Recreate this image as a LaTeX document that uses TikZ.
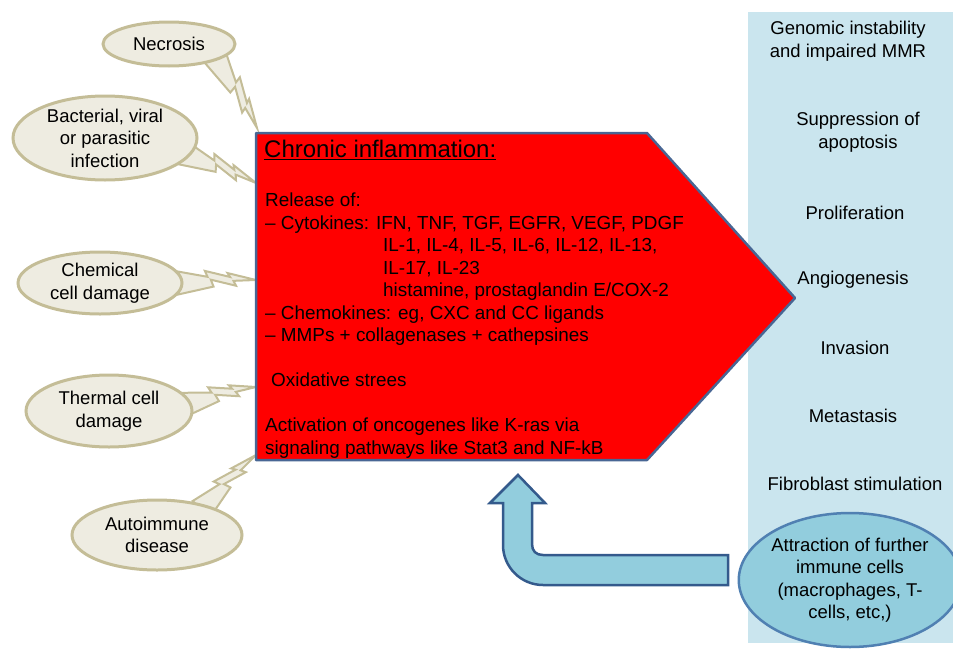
\documentclass[tikz,border=0pt]{standalone}
\usepackage{fontspec}
\setmainfont{Liberation Sans}
\usetikzlibrary{shapes,calc,backgrounds}

\definecolor{tanfill}{RGB}{238,236,225}
\definecolor{tanline}{RGB}{196,189,151}
\definecolor{panelblue}{RGB}{202,229,238}
\definecolor{boxline}{RGB}{72,102,148}
\definecolor{arrowfill}{RGB}{146,205,221}
\definecolor{arrowline}{RGB}{52,90,140}
\definecolor{cellline}{RGB}{80,128,178}

% lightning callout from an ellipse to a point on the box
\newcommand{\bolt}[2]{%
  \filldraw[bolt] ($(#1)!0!(#2)!12pt!90:(#2)$) -- ($(#1)!.40!(#2)!5pt!90:(#2)$)
    -- ($(#1)!.37!(#2)!11pt!90:(#2)$) -- ($(#1)!.68!(#2)!4pt!90:(#2)$)
    -- ($(#1)!.65!(#2)!8pt!90:(#2)$) -- (#2)
    -- ($(#1)!.72!(#2)!0pt!90:(#2)$) -- ($(#1)!.75!(#2)!-5pt!90:(#2)$)
    -- ($(#1)!.44!(#2)!2pt!90:(#2)$) -- ($(#1)!.47!(#2)!-5pt!90:(#2)$)
    -- ($(#1)!0!(#2)!-12pt!90:(#2)$) -- cycle;}

\begin{document}
\begin{tikzpicture}[x=1pt,y=-1pt,font=\fontsize{18.5}{22.5}\selectfont]
  \tikzset{cause/.style={ellipse,draw=tanline,fill=tanfill,line width=3pt,inner sep=0pt,align=center},
           bolt/.style={fill=tanfill,draw=tanline,line width=2pt},
           effect/.style={align=center,inner sep=0pt}}
  \useasboundingbox (0,0) rectangle (953,648);
  \fill[panelblue] (748,12) rectangle (953,643);

  % causes
  \node[cause,minimum width=132,minimum height=44] (necro)  at (169,44)  {Necrosis};
  \node[cause,minimum width=184,minimum height=84] (infect) at (105,138) {Bacterial, viral\\or parasitic\\infection};
  \node[cause,minimum width=164,minimum height=62] (chem)   at (100,283) {Chemical\\cell damage};
  \node[cause,minimum width=166,minimum height=72] (therm)  at (109,411) {Thermal cell\\damage};
  \node[cause,minimum width=170,minimum height=70] (auto)   at (157,535) {Autoimmune\\disease};

  % chronic inflammation box
  \coordinate (nw) at (256,133); \coordinate (ne) at (647,133);
  \coordinate (tip) at (795,298);
  \coordinate (se) at (647,460); \coordinate (sw) at (256,460);
  \draw[fill=red,draw=boxline,line width=2.5pt,line join=round] (nw) -- (ne) -- (tip) -- (se) -- (sw) -- cycle;
  \node[anchor=west,inner sep=0pt,font=\fontsize{24}{28}\selectfont] (title) at (264,150) {\underline{Chronic inflammation:}};
  \node[anchor=north west,inner sep=0pt,align=left,font=\fontsize{18.9}{22.5}\selectfont] (release) at (265,193)
    {Release of:\\
     -- Cytokines: IFN, TNF, TGF, EGFR, VEGF, PDGF\\
     \hspace*{118pt}IL-1, IL-4, IL-5, IL-6, IL-12, IL-13,\\
     \hspace*{118pt}IL-17, IL-23\\
     \hspace*{118pt}histamine, prostaglandin E/COX-2\\
     -- Chemokines: eg, CXC and CC ligands\\
     -- MMPs + collagenases + cathepsines\\[22.5pt]
     \hspace*{6pt}Oxidative strees\\[22.5pt]
     Activation of oncogenes like K-ras via\\
     signaling pathways like Stat3 and NF-kB};

  % callouts
  \coordinate (t1) at (257,128);
  \coordinate (t2) at (256,183);
  \coordinate (t3) at (256,280);
  \coordinate (t4) at (256,387);
  \coordinate (t5) at (256,455);
  \begin{scope}[on background layer]
    \bolt{$(necro.-15)!8pt!(necro.center)$}{t1}
    \bolt{$(infect.-11)!8pt!(infect.center)$}{t2}
    \bolt{$(chem.0)!8pt!(chem.center)$}{t3}
    \bolt{$(therm.5)!8pt!(therm.center)$}{t4}
    \bolt{$(auto.30)!8pt!(auto.center)$}{t5}
  \end{scope}

  % outcomes
  \node[effect] (genom)  at (848,41)  {Genomic instability\\and impaired MMR};
  \node[effect] (apopt)  at (858,132) {Suppression of\\apoptosis};
  \node[effect] (prolif) at (855,213) {Proliferation};
  \node[effect] (angio)  at (853,280) {Angiogenesis};
  \node[effect] (invas)  at (855,348) {Invasion};
  \node[effect] (meta)   at (853,416) {Metastasis};
  \node[effect] (fibro)  at (855,484) {Fibroblast stimulation};
  \node[ellipse,fill=arrowfill,draw=cellline,line width=2.5pt,align=center,inner sep=0pt,
        minimum width=210,minimum height=134] (attract) at (850,580)
    {Attraction of further\\immune cells\\(macrophages, T-\\cells, etc,)};

  % feedback arrow
  \draw[fill=arrowfill,draw=arrowline,line width=2.5pt,line join=miter]
    (728,555) -- (543,555) .. controls (536,555) and (532,551) .. (532,544)
    -- (532,503) -- (545,503) -- (518,475) -- (490,503) -- (503,503) -- (503,545)
    .. controls (503,567) and (521,585) .. (543,585) -- (728,585) -- cycle;
\end{tikzpicture}
\end{document}
